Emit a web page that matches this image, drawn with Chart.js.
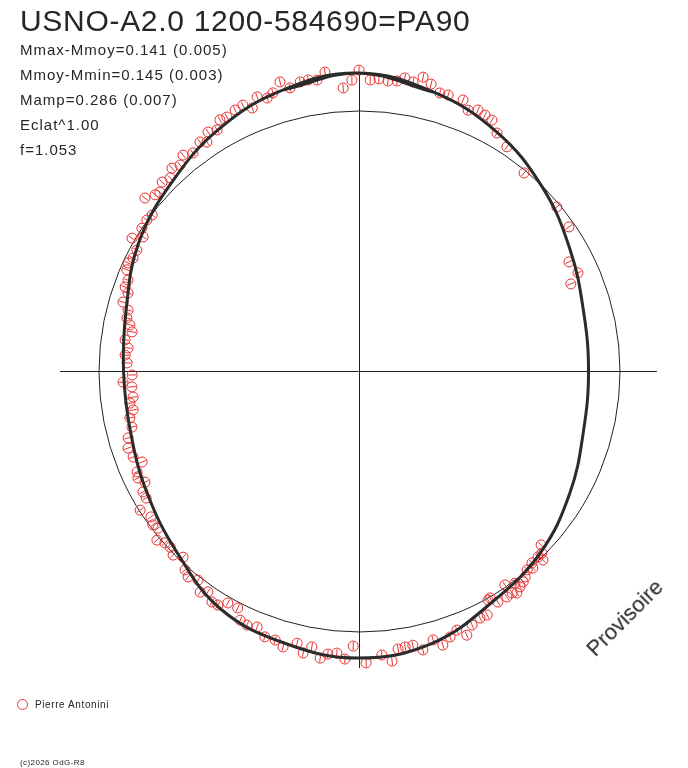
<!DOCTYPE html>
<html>
<head>
<meta charset="utf-8">
<script src="https://cdn.jsdelivr.net/npm/chart.js@4.4.1/dist/chart.umd.min.js"></script>
<style>
  body { margin: 0; background: #fff; }
  #wrap { position: relative; width: 688px; height: 768px; font-family: "Liberation Sans", Arial, sans-serif; color: #262626; }
  #wrap canvas { position: absolute; left: 0; top: 0; }
  .t { position: absolute; line-height: 1; white-space: nowrap; }
  #title { left: 20px; top: 6px; font-size: 30px; letter-spacing: 0.7px; }
  .stat { left: 20px; font-size: 15px; letter-spacing: 1px; }
  #legend { left: 35px; top: 700px; font-size: 10px; letter-spacing: 0.6px; }
  #legendMark { position: absolute; left: 17px; top: 699px; width: 9px; height: 9px; border: 1px solid #e23a3a; border-radius: 50%; }
  #copy { left: 20px; top: 759px; font-size: 8px; letter-spacing: 0.4px; }
  #prov { left: 576px; top: 607px; font-size: 22px; transform: rotate(-45deg); transform-origin: 50% 50%; }
</style>
</head>
<body>
<div id="wrap">
  <canvas id="lcChart" width="688" height="768"></canvas>
  <div class="t" id="title">USNO-A2.0 1200-584690=PA90</div>
  <div class="t stat" style="top:42px">Mmax-Mmoy=0.141 (0.005)</div>
  <div class="t stat" style="top:67px">Mmoy-Mmin=0.145 (0.003)</div>
  <div class="t stat" style="top:92px">Mamp=0.286 (0.007)</div>
  <div class="t stat" style="top:117px">Eclat^1.00</div>
  <div class="t stat" style="top:142px">f=1.053</div>
  <div id="legendMark"></div>
  <div class="t" id="legend">Pierre Antonini</div>
  <div class="t" id="copy">(c)2026 OdG-R8</div>
  <div class="t" id="prov">Provisoire</div>
</div>
<script>
// observations : phase angle (deg, clockwise from top) and relative flux (% of mean)
var obsPhase = [
  0.1, 2.3, 4.0, 5.8, 7.6, 9.0, 10.7, 12.4, 14.2, 16.3, 18.0, 21.1, 22.8, 24.6, 26.3, 28.0, 30.2, 33.5,
  39.9, 50.4, 55.6, 62.6, 65.9, 67.7,
  133.6, 134.8, 135.7, 136.0, 137.9, 138.5, 139.7, 141.0, 142.0, 143.2, 143.6, 144.5, 145.3, 145.6, 146.7,
  148.9, 149.9, 150.5, 152.2, 153.8, 155.9, 157.7, 159.2, 161.0, 162.9, 164.5, 167.0, 168.8, 170.4, 171.9,
  173.4, 175.3, 178.5, 181.1, 182.7, 184.4, 186.2, 187.6, 189.6, 191.1, 192.7, 195.3, 197.2, 199.4, 201.6,
  203.7, 205.4, 207.0, 209.4, 211.0, 212.4, 214.3, 215.6, 217.5, 219.6, 221.1, 223.3, 225.2, 226.9, 228.4,
  230.0, 231.9, 233.2, 234.9, 237.5, 239.1, 240.7, 242.5, 244.1, 245.5, 247.2, 249.1, 251.5, 253.8, 256.1,
  258.4, 260.2, 262.0, 263.4, 266.0, 267.3, 269.0, 272.0, 273.9, 275.7, 277.6, 279.8, 281.4, 282.9, 284.8,
  286.3, 288.7, 289.8, 291.5, 293.6, 295.1, 296.6, 298.6, 300.4, 301.9, 303.4, 305.5, 307.1, 309.0, 310.9,
  312.0, 313.9, 315.7, 317.4, 319.1, 320.9, 322.8, 325.3, 326.5, 327.8, 329.6, 331.1, 332.6, 334.7, 336.5,
  338.0, 339.7, 341.5, 342.9, 344.8, 346.4, 348.6, 350.2, 351.9, 353.6, 356.9, 358.7
];
var obsFlux = [
  115.5, 111.8, 112.4, 111.9, 112.3, 113.9, 112.9, 115.5, 113.6, 111.2, 111.4, 111.5, 108.6, 110.2, 109.6, 109.1, 105.7, 103.2,
  99.1, 98.8, 97.9, 91.0, 92.3, 88.1,
  96.8, 99.2, 101.4, 99.2, 99.3, 101.0, 100.1, 101.7, 102.7, 103.5, 101.2, 104.7, 103.6, 99.5, 103.8,
  103.6, 100.7, 101.0, 105.9, 105.7, 106.8, 109.6, 106.4, 108.0, 110.1, 107.1, 109.9, 107.3, 107.4, 107.8,
  112.1, 109.4, 112.1, 105.6, 110.7, 108.6, 109.3, 111.2, 107.4, 110.3, 107.1, 109.8, 108.1, 108.2, 105.7,
  106.5, 105.9, 102.1, 102.2, 104.8, 105.0, 102.6, 104.4, 101.2, 102.6, 101.3, 98.2, 100.3, 99.0, 99.4,
  101.0, 97.8, 98.6, 97.4, 99.4, 95.0, 94.9, 92.4, 94.1, 93.4, 90.1, 92.6, 93.3, 92.1, 89.6,
  89.6, 87.8, 88.6, 87.1, 87.2, 90.5, 86.9, 88.9, 89.8, 88.9, 90.4, 88.2, 89.5, 91.2, 91.5,
  94.2, 93.4, 95.2, 95.1, 97.0, 97.7, 96.8, 96.9, 100.8, 97.4, 99.6, 99.8, 99.3, 105.5, 103.3,
  102.6, 104.6, 103.6, 105.8, 104.6, 106.8, 105.1, 106.9, 105.4, 108.4, 107.3, 110.1, 109.8, 110.8, 111.3,
  108.9, 112.2, 110.5, 111.7, 115.0, 111.8, 113.2, 113.4, 112.8, 115.5, 108.8, 111.7
];

// fitted light curve, read every 15 deg
var fitPhase = [0, 15, 30, 45, 60, 75, 90, 105, 120, 135, 150, 165, 180, 195, 210, 225, 240, 255, 270, 285, 300, 315, 330, 345, 360];
var fitFlux = [114.4, 110.9, 106.0, 99.8, 93.7, 89.4, 88.3, 89.4, 93.7, 98.7, 102.5, 108.3, 110.2, 108.3, 105.6, 98.5, 93.7, 90.6, 90.2, 92.3, 97.6, 101.8, 107.2, 111.7, 114.4];

function toXY(phase, flux) {
  return phase.map(function (p, i) {
    var a = p * Math.PI / 180, r = flux[i] / 100;
    return { x: r * Math.sin(a), y: r * Math.cos(a) };
  });
}

var red = '#e8302f';

// axes cross + mean level circle
var polarFrame = {
  id: 'polarFrame',
  beforeDatasetsDraw: function (chart) {
    var ctx = chart.ctx, a = chart.chartArea;
    var xs = chart.scales.x, ys = chart.scales.y;
    var cx = Math.round(xs.getPixelForValue(0)) + 0.5;
    var cy = Math.round(ys.getPixelForValue(0)) + 0.5;
    var r = xs.getPixelForValue(1) - xs.getPixelForValue(0);
    ctx.save();
    ctx.strokeStyle = '#222';
    ctx.lineWidth = 1;
    ctx.beginPath();
    ctx.moveTo(a.left, cy); ctx.lineTo(a.right, cy);
    ctx.moveTo(cx, a.top); ctx.lineTo(cx, a.bottom);
    ctx.stroke();
    ctx.beginPath();
    ctx.arc(cx, cy, r, 0, 2 * Math.PI);
    ctx.stroke();
    ctx.restore();
  }
};

var obsXY = toXY(obsPhase, obsFlux);
// close the fitted loop smoothly: repeat one neighbour at each end
var fitXY = toXY(fitPhase, fitFlux);
var fitLoop = [fitXY[fitXY.length - 2]].concat(fitXY, [fitXY[1]]);

new Chart(document.getElementById('lcChart').getContext('2d'), {
  type: 'scatter',
  data: {
    datasets: [{
      label: 'fit',
      data: fitLoop,
      showLine: true,
      tension: 0.4,
      borderColor: '#2b2b2b',
      borderWidth: 3,
      pointRadius: 0,
      clip: false
    }, {
      label: 'Pierre Antonini',
      data: obsXY,
      pointStyle: 'circle',
      pointRadius: 5,
      pointBorderWidth: 1,
      pointBorderColor: red,
      pointBackgroundColor: 'rgba(0,0,0,0)',
      clip: false
    }, {
      label: 'err',
      data: obsXY,
      pointStyle: 'line',
      pointRadius: 4,
      pointBorderWidth: 1,
      pointBorderColor: red,
      pointRotation: function (c) { return obsPhase[c.dataIndex] - 90; },
      clip: false
    }]
  },
  options: {
    responsive: false,
    animation: false,
    layout: { padding: { left: 60, right: 31, top: 74, bottom: 100 } },
    scales: {
      x: { type: 'linear', min: -1.1459, max: 1.1459, display: false },
      y: { type: 'linear', min: -1.1401, max: 1.1401, display: false }
    },
    plugins: {
      legend: { display: false },
      tooltip: { enabled: false }
    }
  },
  plugins: [polarFrame]
});
</script>
</body>
</html>
